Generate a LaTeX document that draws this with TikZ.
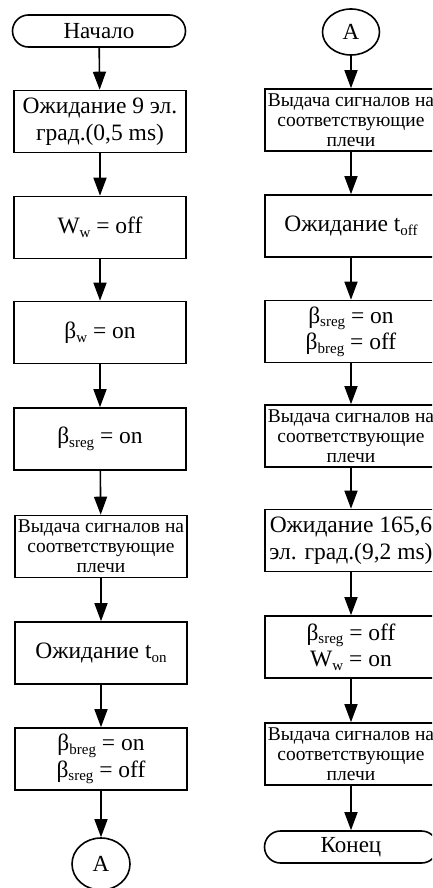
\documentclass[tikz,border=0pt]{standalone}
\usepackage{fontspec}
\setmainfont{Liberation Serif}
\usetikzlibrary{arrows.meta,shapes.geometric}
\newcommand{\lowtxt}[1]{\raisebox{-0.35ex}{\fontsize{15}{15}\selectfont #1}}
\begin{document}
\begin{tikzpicture}[x=1pt,y=-1pt,
  box/.style={draw,line width=1.6pt,minimum width=172pt,minimum height=62pt,inner sep=0pt,align=center,font=\fontsize{23.5}{26.5}\selectfont},
  smallbox/.style={box,font=\fontsize{19.5}{20}\selectfont},
  term/.style={draw,line width=1.6pt,rounded corners=16pt,minimum width=173pt,minimum height=32pt,inner sep=0pt,font=\fontsize{23}{24}\selectfont},
  conn/.style={draw,ellipse,line width=1.6pt,inner sep=0pt,font=\fontsize{23}{24}\selectfont},
  arr/.style={line width=1.6pt,-{Triangle[length=18pt,width=13pt]}}]
\clip (0,0) rectangle (432,888);
% left column
\node[term] (s) at (99,31) {Начало};
\node[box] (l1) at (100,121.5) {Ожидание 9 эл.\\град.(0,5 ms)};
\node[box] (l2) at (100,227.5) {W\lowtxt{w} = off};
\node[box] (l3) at (100,332.5) {β\lowtxt{w} = on};
\node[box] (l4) at (100,439) {β\lowtxt{sreg} = on};
\node[smallbox] (l5) at (101,546.5) {Выдача сигналов на\\соответствующие\\плечи};
\node[box] (l6) at (101,653) {Ожидание t\lowtxt{on}};
\node[box] (l7) at (101,759) {β\lowtxt{breg} = on\\β\lowtxt{sreg} = off};
\node[conn,minimum width=58pt,minimum height=52pt] (la) at (101,864) {A};
\draw[arr] (s) -- (l1);
\draw[arr] (l1) -- (l2);
\draw[arr] (l2) -- (l3);
\draw[arr] (l3) -- (l4);
\draw[arr] (l4) -- (l5);
\draw[arr] (l5) -- (l6);
\draw[arr] (l6) -- (l7);
\draw[arr] (l7) -- (la);
% right column
\node[conn,minimum width=57pt,minimum height=46pt] (ra) at (351,32) {A};
\node[smallbox] (r1) at (351,120) {Выдача сигналов на\\соответствующие\\плечи};
\node[box] (r2) at (351,226) {Ожидание t\lowtxt{off}};
\node[box] (r3) at (351,331.5) {β\lowtxt{sreg} = on\\β\lowtxt{breg} = off};
\node[smallbox] (r4) at (351,436) {Выдача сигналов на\\соответствующие\\плечи};
\node[box] (r5) at (351,540.5) {Ожидание 165,6\\эл. град.(9,2 ms)};
\node[box] (r6) at (351,647) {β\lowtxt{sreg} = off\\W\lowtxt{w} = on};
\node[smallbox] (r7) at (351,754) {Выдача сигналов на\\соответствующие\\плечи};
\node[term] (e) at (351,847) {Конец};
\draw[arr] (ra) -- (r1);
\draw[arr] (r1) -- (r2);
\draw[arr] (r2) -- (r3);
\draw[arr] (r3) -- (r4);
\draw[arr] (r4) -- (r5);
\draw[arr] (r5) -- (r6);
\draw[arr] (r6) -- (r7);
\draw[arr] (r7) -- (e);
\end{tikzpicture}
\end{document}
